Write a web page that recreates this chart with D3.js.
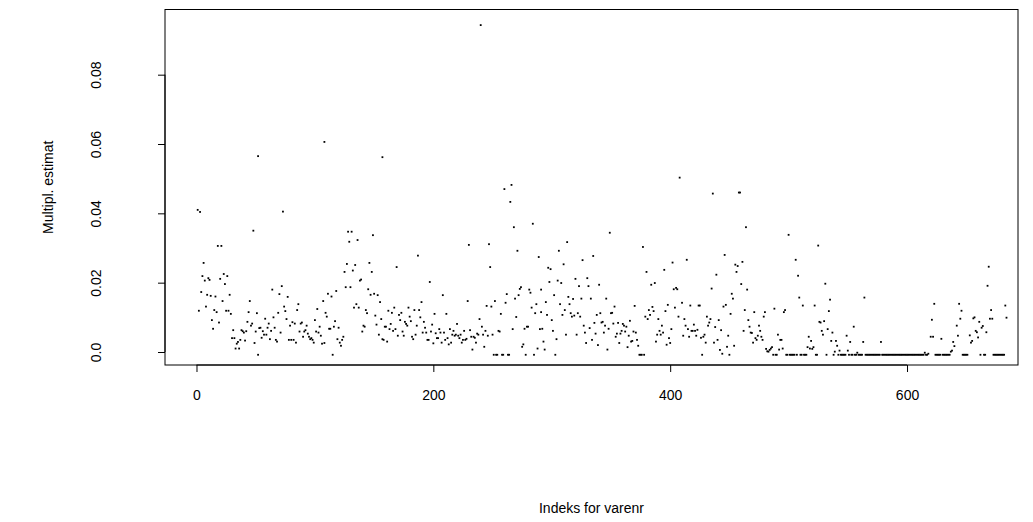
<!DOCTYPE html>
<html>
<head>
<meta charset="utf-8">
<script src="https://cdn.jsdelivr.net/npm/d3@7"></script>
<style>
  html, body { margin: 0; padding: 0; background: #ffffff; }
  svg { display: block; }
  text { font-family: "Liberation Sans", Arial, Helvetica, sans-serif; fill: #000; }
</style>
</head>
<body>
<svg id="chart" width="1033" height="522"></svg>
<script>
// Axis ticks
const xTickValues = [0, 200, 400, 600];
const xTickLabels = ["0", "200", "400", "600"];
const yTickValues = [0, 0.02, 0.04, 0.06, 0.08];
const yTickLabels = ["0.0", "0.02", "0.04", "0.06", "0.08"];

const xTitle = "Indeks for varenr";
const yTitle = "Multipl. estimat";

// Item index (varenr order) and multiplicative estimate
const itemIndex = [
  1,2,3,4,5,6,7,8,9,10,11,12,13,14,15,16,17,18,19,20,21,22,23,24,25,26,27,28,29,30,
  31,32,33,34,35,36,37,38,39,40,41,42,43,44,45,46,47,48,49,50,51,52,53,52,
  54,55,56,57,58,59,60,61,62,63,64,65,66,67,68,69,70,71,72,73,74,75,76,77,78,79,80,
  81,82,83,84,85,86,87,88,89,90,91,92,93,94,95,96,97,98,99,100,101,102,103,104,105,
  106,107,108,109,110,111,112,108,
  113,114,115,116,117,118,119,120,121,122,123,124,125,126,127,128,129,130,131,132,
  133,134,135,136,137,138,139,140,141,142,143,144,145,146,147,148,149,150,151,152,
  153,154,155,156,157,158,159,160,161,162,163,164,165,166,167,168,169,170,171,157,
  172,173,174,175,176,177,178,179,180,181,182,183,184,185,186,187,188,189,190,191,
  192,193,194,195,196,197,198,199,200,201,202,203,204,205,206,207,208,209,210,211,
  212,213,214,215,216,217,218,219,220,221,222,223,224,225,226,227,228,229,230,
  231,232,233,234,235,236,237,238,239,240,241,242,243,244,245,246,247,248,249,250,
  251,252,253,254,255,256,257,258,259,260,261,262,263,264,265,266,267,268,269,270,
  271,272,273,274,275,276,277,278,279,280,281,282,283,284,285,286,287,288,289,290,291,
  291,292,293,294,295,296,297,298,299,300,301,302,303,304,305,306,307,308,309,310,
  311,312,313,314,315,316,317,318,319,320,321,322,323,324,325,326,327,328,329,330,
  331,332,333,334,335,336,337,338,339,340,341,342,343,344,345,346,347,348,349,350,
  351,352,353,354,355,356,357,358,359,360,361,362,363,364,365,366,367,368,369,370,
  371,372,373,374,375,376,377,378,379,380,381,382,383,384,385,386,387,388,389,390,
  391,392,393,394,395,396,397,398,399,400,401,402,403,404,405,406,407,408,
  410,411,412,413,414,415,416,417,418,419,420,421,422,423,424,425,426,427,428,429,
  430,431,432,433,434,435,436,437,438,439,440,441,442,443,444,445,446,447,448,449,
  450,451,452,453,454,455,456,457,458,459,460,461,462,463,464,465,466,467,468,
  469,470,471,472,473,474,475,476,477,478,479,480,481,482,483,484,485,486,487,488,
  489,490,491,492,493,494,495,496,497,498,499,500,501,502,503,504,505,506,507,508,
  509,510,511,512,513,514,515,516,517,518,519,520,521,522,523,524,525,526,
  527,528,529,530,531,532,533,534,535,536,537,538,539,540,541,542,543,544,545,546,
  547,548,549,550,551,552,553,554,555,556,557,558,559,560,561,562,563,564,565,566,
  567,568,569,570,571,572,573,574,575,576,577,578,579,580,581,582,583,584,585,586,
  587,588,589,590,591,592,593,594,595,596,597,598,599,600,601,602,603,604,605,606,
  607,608,609,610,611,612,613,614,615,616,617,618,620,621,622,623,624,625,626,627,
  628,629,630,631,632,633,634,635,636,637,638,639,640,642,643,644,645,
  646,647,648,649,650,651,653,654,655,656,657,658,659,660,661,662,663,664,665,666,
  667,668,669,670,671,672,673,674,675,676,677,678,679,680,681,682,683,684
];

const multEstimate = [
  0.0410,0.0119,0.0404,0.0173,0.0219,0.0257,0.0206,0.0131,0.0165,0.0213,0.0208,0.0162,0.0092,0.0067,0.0121,0.0160,0.0115,0.0306,0.0085,0.0211,0.0306,0.0147,0.0225,0.0196,0.0119,0.0219,0.0119,0.0165,0.0110,0.0040,
  0.0063,0.0040,0.0010,0.0024,0.0029,0.0010,0.0035,0.0063,0.0060,0.0056,0.0033,0.0060,0.0087,0.0115,0.0147,0.0076,0.0082,0.0350,0.0026,0.0059,0.0112,-0.0008,0.0069,0.0565,
  0.0070,0.0041,0.0060,0.0050,0.0096,0.0050,0.0070,0.0082,0.0037,0.0061,0.0180,0.0100,0.0070,0.0035,0.0030,0.0113,0.0167,0.0056,0.0190,0.0405,0.0131,0.0118,0.0095,0.0159,0.0035,0.0076,0.0035,
  0.0086,0.0035,0.0082,0.0027,0.0121,0.0138,0.0059,0.0082,0.0085,0.0044,0.0059,0.0063,0.0076,0.0053,0.0044,0.0037,0.0040,0.0035,0.0027,0.0092,0.0059,0.0124,0.0056,0.0073,0.0047,
  0.0024,0.0147,0.0026,0.0113,0.0102,0.0168,0.0067,0.0606,
  0.0067,0.0160,-0.0008,0.0073,0.0089,0.0176,0.0037,0.0070,0.0027,0.0018,0.0035,0.0044,0.0231,0.0187,0.0254,0.0347,0.0318,0.0187,0.0347,0.0235,
  0.0128,0.0251,0.0138,0.0323,0.0128,0.0206,0.0209,0.0059,0.0076,0.0073,0.0121,0.0112,0.0181,0.0257,0.0165,0.0231,0.0337,0.0168,0.0105,0.0079,
  0.0164,0.0050,0.0144,0.0095,0.0037,0.0035,0.0073,0.0073,0.0030,0.0119,0.0066,0.0081,0.0113,0.0061,0.0128,0.0066,0.0245,0.0047,0.0107,0.0562,
  0.0092,0.0113,0.0059,0.0047,0.0087,0.0081,0.0076,0.0128,0.0102,0.0089,0.0044,0.0037,0.0121,0.0050,0.0076,0.0278,0.0121,0.0100,0.0144,0.0056,
  0.0087,0.0070,0.0056,0.0035,0.0035,0.0202,0.0059,0.0079,0.0025,0.0110,0.0054,0.0040,0.0040,0.0066,0.0056,0.0027,0.0164,0.0056,0.0035,0.0110,
  0.0040,0.0022,0.0066,0.0027,0.0050,0.0061,0.0047,0.0050,0.0081,0.0047,0.0040,0.0050,0.0027,0.0035,0.0061,0.0035,0.0038,0.0147,0.0309,
  0.0063,0.0044,0.0007,0.0044,0.0041,0.0027,0.0053,0.0050,0.0095,0.0943,0.0073,0.0050,0.0015,0.0061,0.0133,0.0047,0.0311,0.0245,0.0131,0.0050,
  -0.0008,0.0147,-0.0008,-0.0008,0.0061,0.0059,0.0110,-0.0008,-0.0008,0.0470,0.0142,0.0167,-0.0008,-0.0008,0.0433,0.0482,0.0066,0.0360,0.0154,0.0101,
  0.0292,0.0164,0.0182,0.0187,0.0015,0.0022,0.0067,-0.0008,0.0073,0.0073,0.0180,0.0171,0.0128,0.0370,-0.0008,0.0112,0.0138,0.0010,0.0274,0.0066,0.0180,
  0.0115,0.0067,0.0030,0.0007,0.0144,0.0107,0.0243,0.0202,0.0239,0.0092,0.0061,0.0164,-0.0008,0.0037,0.0206,0.0292,0.0138,0.0199,0.0107,0.0253,
  0.0121,0.0050,0.0317,0.0159,0.0138,0.0112,0.0102,0.0153,0.0105,0.0211,0.0050,0.0112,0.0190,0.0102,0.0154,0.0265,0.0076,0.0056,0.0026,0.0213,
  0.0190,0.0069,0.0154,0.0035,0.0277,0.0084,0.0053,0.0107,0.0020,0.0194,0.0112,0.0085,0.0087,0.0056,0.0076,0.0154,0.0007,0.0067,0.0344,0.0112,
  0.0113,0.0082,0.0131,0.0044,0.0053,0.0084,0.0026,0.0053,0.0061,0.0081,0.0076,0.0059,0.0073,0.0014,0.0047,0.0090,0.0030,0.0032,0.0059,0.0133,
  0.0056,0.0035,0.0018,-0.0008,-0.0008,-0.0008,0.0303,-0.0008,0.0102,0.0231,0.0095,0.0121,0.0107,0.0194,0.0130,0.0118,0.0199,0.0030,0.0050,0.0095,
  0.0061,0.0050,0.0076,0.0056,0.0237,0.0118,0.0021,0.0136,0.0040,0.0026,0.0066,0.0258,0.0181,0.0128,0.0185,0.0181,0.0102,0.0503,
  0.0142,0.0047,0.0095,0.0076,0.0266,0.0066,0.0044,0.0134,0.0061,0.0061,0.0079,0.0061,0.0047,0.0064,0.0134,0.0134,0.0041,-0.0008,0.0044,0.0050,
  0.0027,0.0102,0.0076,0.0085,0.0095,0.0183,0.0457,0.0027,0.0072,0.0223,0.0035,0.0092,0.0006,0.0063,-0.0005,0.0131,0.0280,0.0136,0.0015,0.0047,
  -0.0008,0.0110,0.0168,0.0154,0.0018,0.0252,0.0231,0.0248,0.0460,0.0460,0.0196,0.0260,0.0061,0.0121,0.0360,0.0180,0.0092,0.0073,0.0056,
  0.0055,0.0027,0.0115,0.0040,0.0035,0.0047,0.0076,0.0061,0.0044,0.0035,0.0102,0.0115,0.0009,0.0002,0.0001,0.0006,0.0010,0.0014,-0.0008,0.0125,
  -0.0008,-0.0008,0.0050,0.0007,0.0035,0.0035,0.0010,0.0115,0.0121,-0.0008,-0.0008,0.0338,-0.0008,-0.0008,-0.0008,-0.0008,-0.0008,0.0266,-0.0008,0.0220,
  0.0157,-0.0008,-0.0008,0.0134,-0.0008,-0.0008,-0.0008,0.0014,0.0044,0.0010,0.0032,0.0009,0.0014,0.0134,-0.0008,-0.0008,0.0307,0.0087,
  0.0085,0.0061,0.0050,0.0089,0.0197,-0.0008,0.0066,0.0118,0.0151,0.0032,0.0056,-0.0008,0.0001,0.0032,0.0018,-0.0008,0.0004,-0.0008,-0.0008,-0.0008,
  -0.0008,-0.0008,0.0047,0.0004,-0.0008,0.0029,-0.0008,-0.0008,0.0073,-0.0008,-0.0008,-0.0002,-0.0008,-0.0008,-0.0008,-0.0008,0.0029,0.0157,-0.0008,-0.0008,
  -0.0008,-0.0008,-0.0008,-0.0008,-0.0008,-0.0008,-0.0008,-0.0008,-0.0008,-0.0008,-0.0008,0.0029,-0.0008,-0.0008,-0.0008,-0.0008,-0.0008,-0.0008,-0.0008,-0.0008,
  -0.0008,-0.0008,-0.0008,-0.0008,-0.0008,-0.0008,-0.0008,-0.0008,-0.0008,-0.0008,-0.0008,-0.0008,-0.0008,-0.0008,-0.0008,-0.0008,-0.0008,-0.0008,-0.0008,-0.0008,
  -0.0008,-0.0008,-0.0008,-0.0008,-0.0008,-0.0008,-0.0008,-0.0008,-0.0002,-0.0008,-0.0008,-0.0005,0.0044,0.0093,0.0044,0.0139,-0.0008,-0.0008,-0.0008,-0.0008,
  -0.0008,0.0038,-0.0008,-0.0008,-0.0008,-0.0008,-0.0008,-0.0008,-0.0008,0.0001,0.0004,0.0029,0.0017,0.0076,0.0047,0.0139,0.0096,
  0.0119,-0.0008,-0.0008,-0.0008,-0.0008,-0.0008,0.0048,0.0027,0.0032,0.0097,0.0100,0.0061,0.0057,0.0042,0.0087,-0.0008,0.0070,0.0075,-0.0008,-0.0008,
  0.0057,0.0191,0.0246,0.0096,0.0121,0.0096,-0.0008,-0.0008,-0.0008,-0.0008,-0.0008,-0.0008,-0.0008,-0.0008,-0.0008,-0.0008,0.0134,0.0099
];

const points = itemIndex.map((d, i) => ({ idx: d, est: multEstimate[i] }));

const svg = d3.select("#chart");

// plotting region (box) in pixels
const box = { left: 165, right: 1018, top: 9.5, bottom: 365 };

const x = d3.scaleLinear()
  .domain([-26.6, (box.right - 196.5) / 1.1842])
  .range([box.left, box.right]);

const y = d3.scaleLinear()
  .domain([-0.00375, 0.0988])
  .range([box.bottom, box.top]);

// points, drawn as small squares
svg.append("g")
  .selectAll("rect")
  .data(points)
  .join("rect")
  .attr("x", d => x(d.idx) - 0.9)
  .attr("y", d => y(d.est) - 0.9)
  .attr("width", 1.8)
  .attr("height", 1.8)
  .attr("fill", "#000");

// frame
svg.append("rect")
  .attr("x", box.left)
  .attr("y", box.top)
  .attr("width", box.right - box.left)
  .attr("height", box.bottom - box.top)
  .attr("fill", "none")
  .attr("stroke", "#000")
  .attr("stroke-width", 1);

// x axis
const xAxis = d3.axisBottom(x)
  .tickValues(xTickValues)
  .tickFormat((d, i) => xTickLabels[i])
  .tickSize(7)
  .tickPadding(18)
  .tickSizeOuter(0);

const gx = svg.append("g")
  .attr("transform", `translate(0,${box.bottom})`)
  .call(xAxis);
gx.select(".domain")
  .attr("d", `M${x(xTickValues[0])},0H${x(xTickValues[xTickValues.length - 1])}`);
gx.selectAll("text").style("font-size", "14px").attr("font-family", null);

// y axis
const yAxis = d3.axisLeft(y)
  .tickValues(yTickValues)
  .tickFormat((d, i) => yTickLabels[i])
  .tickSize(7)
  .tickPadding(0)
  .tickSizeOuter(0);

const gy = svg.append("g")
  .attr("transform", `translate(${box.left},0)`)
  .call(yAxis);
gy.select(".domain")
  .attr("d", `M0,${y(yTickValues[0])}V${y(yTickValues[yTickValues.length - 1])}`);
// tick labels run parallel to the axis, left of the ticks
gy.selectAll(".tick text")
  .style("font-size", "14px")
  .attr("font-family", null)
  .attr("x", 0)
  .attr("y", 0)
  .attr("dy", null)
  .attr("text-anchor", "middle")
  .attr("transform", `translate(${96 - box.left + 5},0) rotate(-90)`);

svg.selectAll(".tick line").attr("stroke", "#000");
svg.selectAll(".domain").attr("stroke", "#000");

// titles
svg.append("text")
  .attr("x", (box.left + box.right) / 2)
  .attr("y", 513)
  .attr("text-anchor", "middle")
  .style("font-size", "14px")
  .text(xTitle);

svg.append("text")
  .attr("transform", `translate(53,${(box.top + box.bottom) / 2}) rotate(-90)`)
  .attr("text-anchor", "middle")
  .style("font-size", "14px")
  .text(yTitle);
</script>
</body>
</html>
